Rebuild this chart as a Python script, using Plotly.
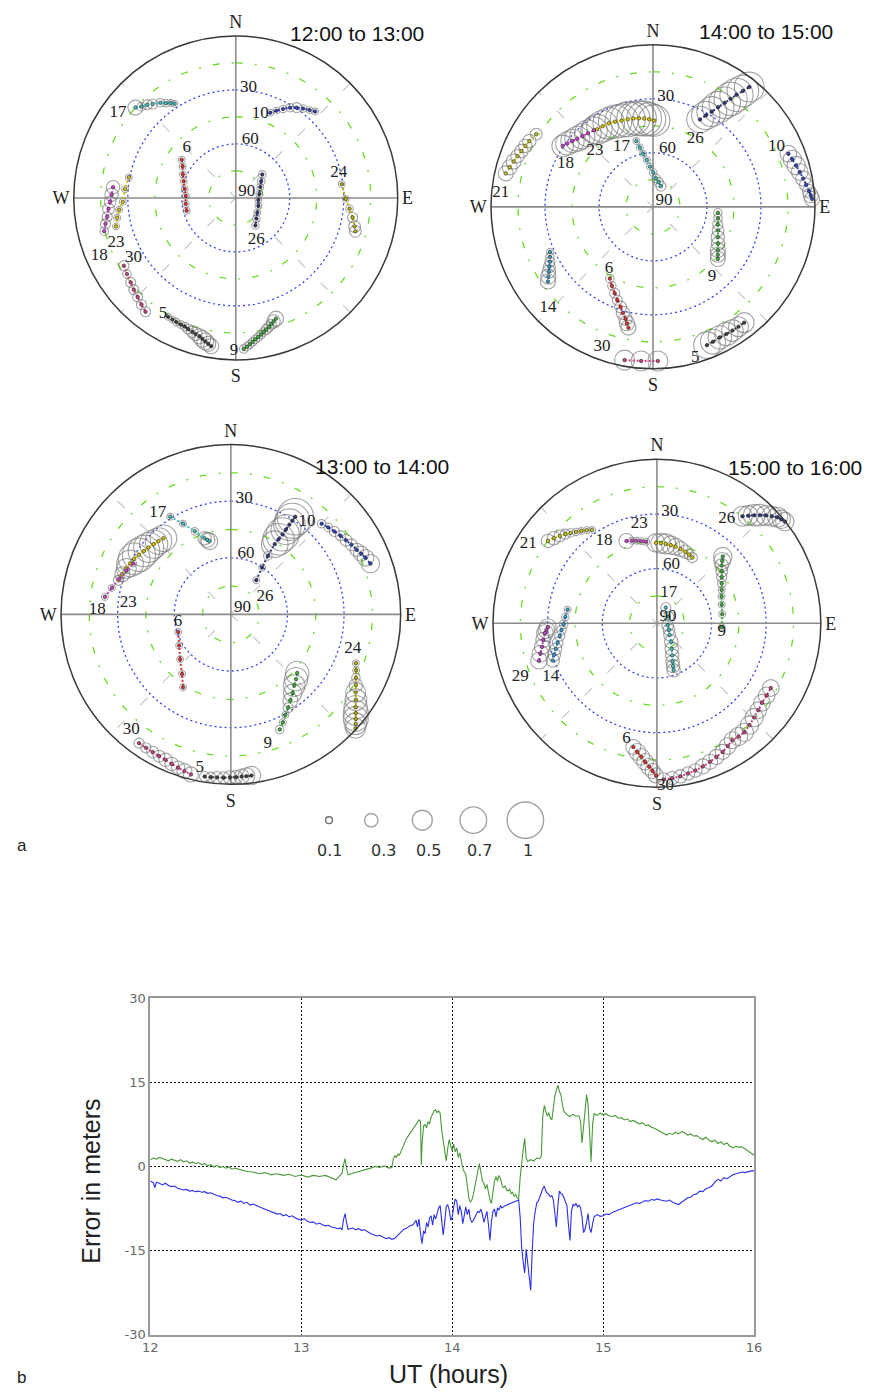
import numpy as np
import plotly.graph_objects as go

FIG_W, FIG_H = 875, 1398

# ---------------------------------------------------------------------------
# Sky plots: per satellite (PRN) azimuth [deg], elevation [deg], error size
# ---------------------------------------------------------------------------
SKY_12 = {
    17: dict(az=[312, 314, 316.5, 318.5, 321.6, 323.5, 325.5, 327],
             el=[15, 17, 18.6, 20.3, 22.5, 24.5, 26, 27.6],
             s=[0.35, 0.15, 0.2, 0.2, 0.15, 0.12, 0.1, 0.1]),
    10: dict(az=[22, 25, 28, 31, 34, 37, 40, 42.6],
             el=[38.9, 36.5, 34, 31.5, 29.5, 27.8, 26.3, 24.8],
             s=[0.1, 0.1, 0.12, 0.15, 0.2, 0.12, 0.1, 0.1]),
    6: dict(az=[305.3, 300.7, 294, 287.8, 279.8, 272.2, 263.3, 255.4],
            el=[53.2, 55.7, 57.8, 59.6, 61.2, 62.2, 62, 61.8],
            s=[0.1, 0.1, 0.1, 0.1, 0.1, 0.1, 0.1, 0.1]),
    26: dict(az=[48.4, 56.8, 66.2, 80.5, 95, 109.2, 124.3, 135, 144.5],
             el=[70.3, 73.1, 75.1, 76.7, 77.4, 76.7, 75.5, 73.8, 71.2],
             s=[0.12, 0.12, 0.1, 0.1, 0.1, 0.1, 0.1, 0.12, 0.12]),
    24: dict(az=[82.6, 90.5, 95.4, 99.5, 103.5, 105.6],
             el=[30.6, 28.9, 26.5, 24.2, 22.1, 21],
             s=[0.1, 0.1, 0.12, 0.2, 0.25, 0.25]),
    23: dict(az=[280.9, 274.5, 268, 264.2, 260.5, 256.6],
             el=[29.5, 28.3, 27.2, 24.8, 23.2, 21.6],
             s=[0.1, 0.1, 0.1, 0.1, 0.1, 0.1]),
    18: dict(az=[275, 271.5, 268.2, 265, 261.7, 258.7, 255.8],
             el=[21.6, 21, 20.2, 19, 17.8, 16.2, 14.6],
             s=[0.3, 0.3, 0.25, 0.25, 0.2, 0.2, 0.15]),
    30: dict(az=[238.8, 235, 231.2, 228, 224.7, 221.5, 218.4],
             el=[17.3, 16.2, 15.1, 13.8, 12.5, 10.9, 9.3],
             s=[0.2, 0.15, 0.2, 0.2, 0.2, 0.2, 0.2]),
    5: dict(az=[209.7, 207.5, 205.6, 203.5, 201.6, 200, 198, 196.5, 194.7, 193.3, 192, 190.7, 189.4],
            el=[14, 13.8, 13.5, 13.3, 13.1, 12.5, 11.8, 11.2, 10.5, 9.5, 8.5, 7.5, 6.5],
            s=[0.1, 0.1, 0.12, 0.12, 0.15, 0.2, 0.25, 0.3, 0.35, 0.4, 0.4, 0.35, 0.35]),
    9: dict(az=[177, 175.7, 174.5, 173.3, 172.1, 170.8, 169.5, 168.2, 167, 165.6, 164.3, 163, 161.6],
            el=[5.9, 7.1, 8.3, 9.5, 10.7, 11.7, 12.8, 13.9, 15, 16, 17.1, 18.2, 19.3],
            s=[0.15, 0.15, 0.15, 0.15, 0.15, 0.15, 0.15, 0.15, 0.2, 0.2, 0.2, 0.3, 0.35]),
}
LAB_12 = {17: (306, 9.2), 10: (16.2, 41.1), 6: (315.6, 51), 26: (154, 63.9),
          24: (76.1, 31), 23: (249.3, 18.9), 18: (247, 7.6), 30: (239.6, 24.2),
          5: (212.1, 14), 9: (180.7, 4.9)}

SKY_13 = {
    17: dict(az=[328.2, 332.2, 336.5, 340.9, 342.5, 343.7],
             el=[29.1, 35.6, 42, 47.3, 48.6, 49.6],
             s=[0.1, 0.1, 0.12, 0.3, 0.35, 0.4]),
    23: dict(az=[286.9, 290.3, 293.7, 296.8, 299.9, 303, 306.1, 309.2, 312.3, 315.4, 318.5],
             el=[27.8, 28.7, 29.5, 30.2, 30.9, 32, 33, 33.8, 34.7, 35.4, 36.1],
             s=[0.2, 0.35, 0.5, 0.7, 0.85, 0.9, 0.85, 0.8, 0.75, 0.7, 0.7]),
    18: dict(az=[277.9, 282.5, 288, 292.8, 297.5],
             el=[22.6, 25.4, 28, 30, 31.7],
             s=[0.1, 0.1, 0.1, 0.1, 0.1]),
    26: dict(az=[36.6, 33.7, 32.3, 32, 32.4, 32.9, 33, 33.1, 33.3, 33.4],
             el=[67.4, 60.1, 53.3, 46.1, 42.8, 39.5, 36.4, 33.2, 30.6, 28],
             s=[0.1, 0.1, 0.15, 0.7, 0.85, 0.9, 0.8, 0.85, 0.95, 1.0]),
    10: dict(az=[45, 48.2, 51.3, 54.3, 57.2, 60, 62.9, 65, 67.2, 70],
             el=[22, 20.8, 19.7, 18.5, 17.4, 16.2, 15, 13.8, 12.6, 11.3],
             s=[0.15, 0.15, 0.2, 0.2, 0.25, 0.25, 0.3, 0.35, 0.4, 0.45]),
    6: dict(az=[251.6, 238.9, 228.5, 219.3, 213.2],
            el=[60.6, 58, 54.1, 49.2, 43.7],
            s=[0.1, 0.1, 0.1, 0.1, 0.1]),
    24: dict(az=[111.3, 114, 116.9, 119.5, 122, 124.3, 126.6, 128.3, 129.9, 131.2, 132.4],
             el=[18.9, 17.3, 15.7, 13.9, 12, 9.8, 7.6, 5.6, 3.7, 2.1, 0.5],
             s=[0.1, 0.1, 0.15, 0.3, 0.5, 0.55, 0.6, 0.65, 0.65, 0.55, 0.5]),
    9: dict(az=[157, 154.3, 151.5, 148.4, 145.3, 141.8, 138.3, 134.8, 131.4],
            el=[23.7, 26.5, 29.4, 32, 34.6, 37, 39.5, 41.3, 43.1],
            s=[0.15, 0.1, 0.1, 0.2, 0.35, 0.45, 0.55, 0.6, 0.6]),
    30: dict(az=[215.5, 212.5, 209.6, 206.9, 204.2, 201.6, 199, 196.5, 194],
             el=[6.2, 6.2, 6.1, 5.8, 5.5, 4.8, 4.1, 3.4, 2.6],
             s=[0.2, 0.2, 0.25, 0.25, 0.3, 0.3, 0.3, 0.35, 0.35]),
    5: dict(az=[189.2, 187, 184.8, 182.5, 180.3, 178.2, 176.2, 174.5, 172.7],
            el=[3, 3.1, 3.3, 3.4, 3.6, 3.7, 3.9, 3.9, 3.9],
            s=[0.2, 0.2, 0.25, 0.25, 0.3, 0.3, 0.35, 0.4, 0.45]),
}
LAB_13 = {17: (324.2, 23.7), 23: (276.5, 35.3), 18: (272.1, 19.1), 26: (62.8, 69.6),
          10: (39.4, 26.4), 6: (262.6, 61.8), 24: (105.6, 22.9), 9: (164.1, 18.5),
          30: (220.8, 9.3), 5: (191.5, 7.1)}

SKY_14 = {
    18: dict(az=[304, 306.5, 309.3, 312, 315, 318.5, 322.4],
             el=[29.5, 30.8, 32.2, 33.4, 34.5, 35.4, 36.3],
             s=[0.55, 0.6, 0.6, 0.65, 0.65, 0.7, 0.7]),
    23: dict(az=[324.2, 328, 332.1, 336, 340, 344, 347.5, 351, 354.3, 357.5, 0.7],
             el=[36.9, 37.2, 37.5, 38.2, 39, 39.4, 39.7, 40.2, 40.7, 41.3, 42],
             s=[0.8, 0.85, 0.85, 0.9, 0.9, 0.95, 0.9, 0.95, 0.95, 0.9, 0.85]),
    17: dict(az=[345.8, 347.5, 349.5, 352.5, 355.8, 0.5, 5.9, 13, 20.9],
             el=[52.3, 56.2, 60, 63.8, 67.6, 70.9, 74.1, 76, 77.7],
             s=[0.1, 0.1, 0.1, 0.1, 0.1, 0.12, 0.15, 0.18, 0.2]),
    26: dict(az=[28.3, 30, 31.7, 33.2, 34.6, 35.7, 36.7, 37.8, 38.8],
             el=[34.9, 31.4, 27.8, 23.8, 19.8, 16.1, 12.4, 8.5, 4.6],
             s=[0.7, 0.75, 0.8, 0.85, 0.85, 0.9, 0.9, 0.85, 0.8]),
    10: dict(az=[68.6, 71.2, 73.9, 76.6, 79.3, 81.8, 84.3, 85.8, 87.2],
             el=[9.2, 8.2, 7.2, 6.2, 5.1, 4, 2.8, 2.1, 1.5],
             s=[0.4, 0.45, 0.45, 0.4, 0.35, 0.3, 0.3, 0.35, 0.35]),
    21: dict(az=[282.8, 285.4, 288, 290.5, 293, 295.5, 298, 301.9],
             el=[6.1, 7.4, 8.6, 9.6, 10.6, 11.4, 12.2, 13.6],
             s=[0.35, 0.35, 0.35, 0.3, 0.3, 0.3, 0.3, 0.25]),
    14: dict(az=[246.3, 244, 241.9, 240, 238.1, 236.3, 234.6],
             el=[27.5, 26.3, 25.1, 23.5, 21.9, 20.1, 18.4],
             s=[0.1, 0.15, 0.2, 0.25, 0.3, 0.35, 0.35]),
    6: dict(az=[211.1, 207.5, 203.9, 200.9, 197.9, 195.8, 193.8, 192.6, 191.5],
            el=[43.5, 40.5, 37.5, 34.5, 31.5, 28.7, 26, 23.7, 21.5],
            s=[0.15, 0.15, 0.2, 0.2, 0.25, 0.3, 0.3, 0.35, 0.35]),
    30: dict(az=[190.5, 184.4, 178.2], el=[3.4, 4.1, 4.3], s=[0.5, 0.5, 0.5]),
    5: dict(az=[158.7, 156, 152.9, 150, 147.3, 144.5, 141.8],
            el=[7.5, 8, 8.5, 8.4, 8.3, 8.2, 8.1],
            s=[0.7, 0.65, 0.6, 0.6, 0.55, 0.5, 0.5]),
    9: dict(az=[95.2, 100, 105.3, 110, 115.2, 119.5, 123.7, 126.5, 128.8],
            el=[53.8, 53.3, 52.7, 51.5, 50.2, 48.5, 46.7, 45.2, 43.8],
            s=[0.15, 0.15, 0.2, 0.25, 0.3, 0.3, 0.35, 0.35, 0.35]),
}
LAB_14 = {18: (296.3, 35.8), 23: (314, 45.3), 17: (332.3, 52.4), 26: (31.9, 45.6),
          10: (64.2, 13.7), 21: (275.2, 5.1), 14: (226.1, 9), 6: (215.5, 47.8),
          30: (200, 7), 5: (164.4, 2.8), 9: (139.8, 39.3)}

SKY_15 = {
    21: dict(az=[307.1, 309.5, 312, 314.2, 316.3, 318.5, 320.7, 323, 325.2],
             el=[15, 16.6, 18.3, 19.8, 21.4, 23, 24.5, 26, 27.6],
             s=[0.3, 0.3, 0.25, 0.2, 0.15, 0.12, 0.1, 0.1, 0.1]),
    18: dict(az=[339.7, 343, 346, 349.2, 352.5], el=[41.8, 42.6, 43.3, 44.1, 44.9],
             s=[0.35, 0.1, 0.1, 0.1, 0.1]),
    23: dict(az=[359.3, 2.8, 6.3, 10, 13.7, 17.7, 21.7, 25, 28.3],
             el=[45.8, 46, 46.1, 46.4, 46.7, 47.2, 47.7, 48.3, 49],
             s=[0.45, 0.5, 0.5, 0.45, 0.4, 0.35, 0.3, 0.2, 0.2]),
    26: dict(az=[38.6, 40.3, 42, 43.6, 45.3, 47, 48.7, 50.1, 51.5],
             el=[14.8, 12.5, 10.2, 8, 5.8, 3.8, 1.8, 1, 0.3],
             s=[0.5, 0.5, 0.55, 0.55, 0.5, 0.5, 0.5, 0.45, 0.45]),
    9: dict(az=[93.5, 82, 73.9, 67.5, 62.7, 58.3, 54.5, 51.2, 48.2, 46.3, 44.6],
            el=[54.4, 53.8, 53, 51.6, 50, 48.2, 46.3, 44.3, 42.3, 40.4, 38.5],
            s=[0.1, 0.1, 0.1, 0.1, 0.1, 0.15, 0.2, 0.25, 0.3, 0.4, 0.45]),
    17: dict(az=[29.4, 60, 100, 118, 132.7, 142, 150, 154.5, 157.7, 159.3, 160.5],
             el=[80.1, 82.5, 84, 82.5, 80.5, 77.2, 73.8, 70.5, 67.3, 64.9, 62.6],
             s=[0.2, 0.2, 0.25, 0.25, 0.25, 0.3, 0.3, 0.3, 0.3, 0.3, 0.3]),
    14: dict(az=[278.7, 274, 269.4, 266, 262.5, 259, 255.8, 253, 250.3],
             el=[40.4, 39.6, 38.8, 37.5, 36.2, 34.5, 32.8, 31, 29.3],
             s=[0.1, 0.12, 0.15, 0.18, 0.2, 0.22, 0.25, 0.28, 0.3]),
    29: dict(az=[268, 266.5, 265, 261.7, 258.4, 255.4, 252.4],
             el=[30.1, 29.2, 28.3, 27, 25.6, 23.9, 22.1],
             s=[0.4, 0.4, 0.4, 0.35, 0.35, 0.4, 0.4]),
    6: dict(az=[190.8, 188.7, 186.7, 184.9, 183.1, 181.7, 180.4],
            el=[20.9, 18.6, 16.2, 13.7, 11.2, 8.9, 6.5],
            s=[0.35, 0.4, 0.4, 0.4, 0.4, 0.35, 0.35]),
    30: dict(az=[177.5, 174.4, 171.3, 168.3, 165.4, 162.2, 159, 156, 152.9, 150, 147.1,
                 144.2, 141.3, 137.7, 134.1, 130.6, 127.1, 123.3, 119.6],
             el=[4.2, 4.6, 5, 5.8, 6.5, 7.5, 8.6, 9.7, 10.7, 12.2, 13.6, 13.4, 13.3,
                 14.5, 15.7, 16.7, 17.7, 17.9, 18.1],
             s=[0.3, 0.3, 0.3, 0.3, 0.3, 0.35, 0.35, 0.35, 0.35, 0.4, 0.4, 0.45, 0.45,
                0.45, 0.45, 0.4, 0.4, 0.4, 0.4]),
}
LAB_15 = {21: (301.7, 7), 18: (327.3, 36.2), 23: (349.9, 34.7), 26: (33.6, 20.8),
          9: (97.8, 54.1), 17: (21.2, 72.1), 29: (248.8, 9.6), 14: (243.4, 24.9),
          6: (194.7, 24.2), 30: (177, 0.5)}

PRN_COLOR = {5: '#404040', 6: '#e03030', 9: '#40b040', 10: '#3040c0', 14: '#30a0d0',
             17: '#40c0c0', 18: '#d040d0', 21: '#c8c020', 23: '#d8c800', 24: '#b8b000',
             26: '#303878', 29: '#c040c0', 30: '#c84080'}

# elevation ring annotations (azimuth, elevation)
RING_LABELS = [("30", 6.6, 28.5), ("60", 14, 56.8), ("90", 61, 83)]

# size legend
LEGEND_VALUES = [0.1, 0.3, 0.5, 0.7, 1.0]
LEGEND_TEXT = ["0.1", "0.3", "0.5", "0.7", "1"]

# ---------------------------------------------------------------------------
# Position error time series (UT hours, metres)
# ---------------------------------------------------------------------------
ERR_GREEN = [
    (12.00, 1.2), (12.02, 1.5), (12.04, 1.3), (12.06, 1.6), (12.08, 1.4), (12.10, 1.2),
    (12.12, 1.0), (12.14, 1.3), (12.16, 1.1), (12.18, 0.9), (12.20, 1.2), (12.22, 0.8),
    (12.24, 1.0), (12.26, 0.6), (12.28, 0.8), (12.30, 0.5), (12.32, 0.7), (12.34, 0.3),
    (12.36, 0.5), (12.38, 0.1), (12.40, 0.3), (12.42, -0.1), (12.44, 0.2), (12.46, -0.2),
    (12.48, 0.0), (12.50, -0.3), (12.52, -0.1), (12.54, -0.5), (12.56, -0.3), (12.60, -0.6),
    (12.64, -0.9), (12.68, -1.0), (12.72, -1.3), (12.76, -1.1), (12.80, -1.5), (12.84, -1.3),
    (12.88, -1.6), (12.92, -1.4), (12.96, -1.8), (13.00, -1.5), (13.04, -1.9), (13.08, -1.6),
    (13.12, -1.8), (13.16, -1.6), (13.20, -2.0), (13.23, -2.4), (13.25, -1.8), (13.27, -1.2),
    (13.28, 0.3), (13.29, 1.4), (13.30, -0.4), (13.31, -1.5), (13.34, -1.2), (13.37, -1.0),
    (13.40, -0.8), (13.43, -0.5), (13.46, -0.3), (13.49, 0.0), (13.52, -0.2), (13.55, 0.1),
    (13.58, -0.3), (13.60, -0.2), (13.61, 1.4), (13.62, 1.9), (13.63, 1.6), (13.64, 2.2),
    (13.65, 2.0), (13.66, 2.6), (13.67, 3.4), (13.68, 4.0), (13.69, 4.6), (13.70, 5.1),
    (13.71, 5.5), (13.72, 5.9), (13.73, 6.2), (13.74, 6.6), (13.75, 7.0), (13.76, 7.4),
    (13.77, 7.9), (13.78, 8.3), (13.79, 8.0), (13.795, 0.3), (13.80, 4.0), (13.81, 7.2),
    (13.82, 7.5), (13.83, 6.9), (13.84, 8.0), (13.85, 7.6), (13.86, 8.8), (13.87, 9.5),
    (13.88, 9.9), (13.89, 10.1), (13.90, 9.6), (13.91, 9.9), (13.92, 9.5), (13.93, 6.5),
    (13.94, 4.5), (13.95, 3.0), (13.96, 1.0), (13.97, 3.2), (13.98, 4.8), (13.99, 3.6),
    (14.00, 2.8), (14.01, 4.0), (14.02, 2.6), (14.03, 3.3), (14.04, 1.6), (14.05, 2.4),
    (14.06, 0.6), (14.07, -0.3), (14.08, -1.0), (14.09, -1.4), (14.10, -3.5), (14.11, -5.6),
    (14.12, -6.4), (14.13, -6.0), (14.14, -5.0), (14.15, -3.8), (14.16, -2.2), (14.17, -0.8),
    (14.18, 0.5), (14.19, -1.2), (14.20, -2.6), (14.21, -3.0), (14.22, -4.0), (14.23, -3.2),
    (14.24, -5.0), (14.25, -6.0), (14.26, -6.6), (14.27, -4.5), (14.28, -2.6), (14.29, -1.8),
    (14.30, -2.6), (14.31, -1.6), (14.32, -2.2), (14.33, -3.4), (14.34, -3.8), (14.35, -3.5),
    (14.36, -4.2), (14.37, -4.4), (14.38, -4.0), (14.39, -4.9), (14.40, -4.6), (14.41, -5.3),
    (14.42, -5.0), (14.43, -5.6), (14.44, -5.9), (14.45, -2.0), (14.46, 0.8), (14.47, 3.0),
    (14.48, 5.0), (14.49, 1.5), (14.50, 0.9), (14.52, 1.2), (14.54, 1.0), (14.56, 1.5),
    (14.58, 1.4), (14.59, 1.8), (14.60, 9.0), (14.61, 10.9), (14.62, 9.8), (14.63, 9.0),
    (14.64, 9.6), (14.65, 8.6), (14.66, 8.3), (14.67, 11.0), (14.68, 12.6), (14.69, 13.6),
    (14.70, 14.5), (14.71, 13.4), (14.72, 12.8), (14.73, 11.0), (14.74, 9.8), (14.76, 9.2),
    (14.78, 8.9), (14.80, 9.3), (14.82, 9.0), (14.84, 9.0), (14.85, 8.0), (14.86, 4.2),
    (14.87, 6.8), (14.88, 10.5), (14.89, 12.8), (14.90, 11.0), (14.91, 6.0), (14.92, 0.8),
    (14.93, 7.5), (14.94, 9.4), (14.96, 9.1), (14.98, 9.5), (15.00, 9.2), (15.02, 9.4),
    (15.04, 9.0), (15.06, 8.9), (15.08, 9.1), (15.10, 8.6), (15.12, 8.7), (15.14, 8.3),
    (15.16, 8.5), (15.18, 8.0), (15.20, 8.2), (15.22, 7.9), (15.24, 7.6), (15.26, 7.8),
    (15.28, 7.3), (15.30, 7.4), (15.32, 7.0), (15.34, 6.8), (15.36, 6.5), (15.38, 6.2),
    (15.40, 5.9), (15.42, 5.6), (15.44, 5.9), (15.46, 5.7), (15.48, 6.1), (15.50, 5.8),
    (15.52, 6.2), (15.54, 6.0), (15.56, 5.6), (15.58, 5.8), (15.60, 5.4), (15.62, 5.5),
    (15.64, 5.1), (15.66, 4.8), (15.68, 5.2), (15.70, 4.7), (15.72, 4.4), (15.74, 4.7),
    (15.76, 4.1), (15.78, 4.4), (15.80, 3.9), (15.82, 4.2), (15.84, 3.6), (15.86, 3.3),
    (15.88, 3.6), (15.90, 3.4), (15.92, 3.5), (15.94, 3.1), (15.96, 2.8), (15.98, 2.4),
    (16.00, 2.0),
]

ERR_BLUE = [
    (12.00, -2.6), (12.02, -2.9), (12.03, -3.8), (12.04, -2.8), (12.06, -3.0), (12.08, -3.3),
    (12.10, -3.0), (12.12, -3.4), (12.14, -3.6), (12.16, -3.5), (12.18, -3.9), (12.20, -4.0),
    (12.22, -4.2), (12.24, -4.1), (12.26, -4.4), (12.28, -4.3), (12.30, -4.5), (12.32, -4.4),
    (12.34, -4.6), (12.36, -4.5), (12.38, -4.8), (12.40, -4.7), (12.42, -5.0), (12.44, -5.2),
    (12.46, -5.3), (12.48, -5.6), (12.50, -5.5), (12.52, -5.8), (12.54, -6.0), (12.56, -6.1),
    (12.58, -6.4), (12.60, -6.2), (12.62, -6.6), (12.64, -6.4), (12.66, -6.9), (12.68, -6.7),
    (12.70, -7.0), (12.72, -7.2), (12.74, -7.4), (12.76, -7.6), (12.78, -7.9), (12.80, -8.0),
    (12.82, -8.2), (12.84, -8.5), (12.86, -8.4), (12.88, -8.8), (12.90, -8.6), (12.92, -9.0),
    (12.94, -8.8), (12.96, -9.2), (12.98, -9.4), (13.00, -9.6), (13.02, -9.3), (13.04, -9.8),
    (13.06, -10.0), (13.08, -9.9), (13.10, -10.3), (13.12, -10.1), (13.14, -10.4),
    (13.16, -10.6), (13.18, -10.5), (13.20, -10.8), (13.22, -10.9), (13.24, -11.1),
    (13.26, -11.0), (13.27, -11.3), (13.28, -9.5), (13.29, -8.4), (13.30, -10.0),
    (13.31, -11.2), (13.34, -11.0), (13.36, -11.3), (13.38, -11.1), (13.40, -11.4),
    (13.42, -11.3), (13.44, -11.7), (13.46, -12.0), (13.48, -12.2), (13.50, -12.4),
    (13.52, -12.3), (13.54, -12.6), (13.56, -12.9), (13.58, -12.7), (13.60, -13.0),
    (13.62, -12.8), (13.64, -12.2), (13.66, -11.6), (13.68, -11.2), (13.70, -11.0),
    (13.72, -10.6), (13.74, -10.4), (13.76, -9.6), (13.77, -10.8), (13.78, -9.4),
    (13.79, -12.0), (13.80, -13.8), (13.81, -11.5), (13.82, -12.0), (13.83, -10.0),
    (13.84, -10.8), (13.85, -9.2), (13.86, -8.8), (13.87, -10.5), (13.88, -8.6),
    (13.89, -9.4), (13.90, -8.2), (13.91, -7.4), (13.92, -7.0), (13.93, -9.5),
    (13.94, -12.2), (13.95, -10.0), (13.96, -7.2), (13.97, -6.8), (13.98, -7.8),
    (13.99, -9.6), (14.00, -9.0), (14.01, -7.2), (14.02, -5.8), (14.03, -6.2), (14.04, -8.6),
    (14.05, -7.0), (14.06, -8.0), (14.07, -10.2), (14.08, -8.4), (14.09, -7.2), (14.10, -8.6),
    (14.11, -7.6), (14.12, -9.4), (14.13, -10.0), (14.14, -9.6), (14.15, -9.0), (14.16, -8.6),
    (14.17, -8.0), (14.18, -8.2), (14.19, -7.6), (14.20, -8.6), (14.21, -10.0), (14.22, -9.0),
    (14.23, -8.0), (14.24, -10.4), (14.25, -13.2), (14.26, -9.8), (14.27, -8.0), (14.28, -7.6),
    (14.29, -9.0), (14.30, -7.4), (14.31, -7.8), (14.32, -7.0), (14.33, -7.4), (14.35, -7.0),
    (14.37, -6.8), (14.39, -6.6), (14.41, -6.4), (14.43, -6.2), (14.44, -6.0), (14.45, -9.0),
    (14.46, -14.4), (14.47, -17.0), (14.48, -19.0), (14.49, -14.8), (14.50, -17.5),
    (14.51, -20.5), (14.52, -22.1), (14.53, -15.0), (14.54, -10.0), (14.55, -8.0),
    (14.56, -6.5), (14.57, -6.2), (14.58, -5.4), (14.59, -4.8), (14.60, -4.0), (14.61, -3.5),
    (14.62, -4.4), (14.63, -4.8), (14.64, -5.0), (14.65, -5.4), (14.66, -5.2), (14.67, -6.0),
    (14.68, -8.4), (14.69, -10.8), (14.70, -7.0), (14.71, -4.4), (14.72, -4.8), (14.73, -5.0),
    (14.74, -5.6), (14.75, -6.4), (14.76, -7.0), (14.77, -10.4), (14.78, -13.2), (14.79, -8.0),
    (14.80, -6.8), (14.81, -7.0), (14.82, -6.6), (14.83, -7.2), (14.84, -6.9), (14.85, -7.4),
    (14.86, -9.0), (14.87, -11.8), (14.88, -11.2), (14.89, -10.0), (14.90, -8.4),
    (14.91, -11.0), (14.92, -11.8), (14.93, -10.2), (14.94, -9.0), (14.96, -8.6),
    (14.98, -8.9), (15.00, -8.8), (15.02, -8.5), (15.04, -8.6), (15.06, -8.2), (15.08, -8.0),
    (15.10, -7.8), (15.12, -7.6), (15.14, -7.3), (15.16, -7.2), (15.18, -6.9), (15.20, -6.8),
    (15.22, -6.5), (15.24, -6.6), (15.26, -6.3), (15.28, -6.1), (15.30, -6.2), (15.32, -5.9),
    (15.34, -6.0), (15.36, -5.8), (15.38, -6.0), (15.40, -6.1), (15.42, -6.2), (15.44, -6.0),
    (15.46, -6.4), (15.48, -6.6), (15.50, -6.8), (15.52, -6.4), (15.54, -6.0), (15.56, -5.6),
    (15.58, -5.5), (15.60, -5.0), (15.62, -4.9), (15.64, -4.4), (15.66, -4.5), (15.68, -4.0),
    (15.70, -3.8), (15.72, -3.5), (15.74, -2.8), (15.76, -2.3), (15.78, -2.6), (15.80, -2.0),
    (15.82, -2.2), (15.84, -1.8), (15.86, -1.5), (15.88, -1.3), (15.90, -1.2), (15.92, -1.0),
    (15.94, -1.1), (15.96, -0.9), (15.98, -0.8), (16.00, -0.8),
]

X_TICKS = [12, 13, 14, 15, 16]
Y_TICKS = [-30, -15, 0, 15, 30]
Y_TICK_TEXT = ["-30", "-15", "0", "15", "30"]

# ---------------------------------------------------------------------------
# Layout of the four sky plots (pixel centre, radius, title position)
# ---------------------------------------------------------------------------
PANELS = [
    dict(name="polar", title="12:00 to 13:00", cx=232, cy=193, R=165, tx=355, ty=27,
         tracks=SKY_12, labels=LAB_12),
    dict(name="polar2", title="14:00 to 15:00", cx=657, cy=202, R=165, tx=772, ty=25,
         tracks=SKY_14, labels=LAB_14),
    dict(name="polar3", title="13:00 to 14:00", cx=227, cy=614, R=173, tx=381, ty=464,
         tracks=SKY_13, labels=LAB_13),
    dict(name="polar4", title="15:00 to 16:00", cx=661, cy=623, R=167, tx=802, ty=465,
         tracks=SKY_15, labels=LAB_15),
]

SERIF = "Liberation Serif"
SANS = "Liberation Sans"


def px(x):
    return x / FIG_W


def py(y):
    return 1 - y / FIG_H


def marker_px(v):
    # circle diameter in pixels for a relative error value
    return 3.5 + 33.0 * np.asarray(v, dtype=float)


def zen(el):
    return 90.0 - np.asarray(el, dtype=float)


fig = go.Figure()
annotations = []
layout_polars = {}

ring_theta = np.arange(0, 361, 2)

for p in PANELS:
    sub = p["name"]
    R, cx, cy = p["R"], p["cx"], p["cy"]
    layout_polars[sub] = dict(
        domain=dict(x=[px(cx - R), px(cx + R)], y=[py(cy + R), py(cy - R)]),
        bgcolor="white",
        radialaxis=dict(range=[0, 90], showline=False, showgrid=False,
                        showticklabels=False, ticks=""),
        angularaxis=dict(rotation=90, direction="clockwise", tickmode="array",
                         tickvals=[0, 90, 180, 270], ticktext=["N", "E", "S", "W"],
                         showgrid=False, ticks="", linecolor="#3a3a3a", linewidth=1.5,
                         tickfont=dict(family=SERIF, size=18, color="#222")),
    )

    common = dict(subplot=sub, hoverinfo="skip", showlegend=False)

    # elevation rings
    for r_ring, col, dash in [(15, "#66dd22", "7px,12px,2px,12px"),
                              (45, "#66dd22", "7px,12px,2px,12px"),
                              (75, "#66dd22", "7px,12px,2px,12px"),
                              (30, "#3344ee", "2px,3px"),
                              (60, "#3344ee", "2px,3px")]:
        fig.add_trace(go.Scatterpolar(r=np.full(ring_theta.size, r_ring), theta=ring_theta,
                                      mode="lines", line=dict(color=col, width=1.3, dash=dash),
                                      **common))
    # diagonal spokes
    for a in (45, 135):
        fig.add_trace(go.Scatterpolar(r=[90, 0, 90], theta=[a, a, a + 180], mode="lines",
                                      line=dict(color="#c8c8c8", width=1.2, dash="10px,22px"),
                                      **common))
    # cardinal cross
    for a in (0, 90):
        fig.add_trace(go.Scatterpolar(r=[90, 0, 90], theta=[a, a, a + 180], mode="lines",
                                      line=dict(color="#8c8c8c", width=1.6), **common))

    # satellite tracks: error circles then coloured path
    for prn, trk in p["tracks"].items():
        fig.add_trace(go.Scatterpolar(
            r=zen(trk["el"]), theta=trk["az"], mode="markers", cliponaxis=False,
            marker=dict(symbol="circle-open", size=marker_px(trk["s"]), color="#7c7c7c",
                        line=dict(width=1.1)),
            **common))
    for prn, trk in p["tracks"].items():
        c = PRN_COLOR[prn]
        fig.add_trace(go.Scatterpolar(
            r=zen(trk["el"]), theta=trk["az"], mode="lines+markers", cliponaxis=False,
            line=dict(color=c, width=2, dash="2px,2px"),
            marker=dict(size=3.5, color=c, line=dict(width=0.6, color="#222")),
            **common))

    # satellite numbers
    labs = p["labels"]
    fig.add_trace(go.Scatterpolar(
        r=zen([v[1] for v in labs.values()]), theta=[v[0] for v in labs.values()],
        text=[str(k) for k in labs.keys()], mode="text", cliponaxis=False,
        textfont=dict(family=SERIF, size=17, color="#222"), **common))

    # elevation ring values
    fig.add_trace(go.Scatterpolar(
        r=zen([e for _, _, e in RING_LABELS]), theta=[a for _, a, _ in RING_LABELS],
        text=[t for t, _, _ in RING_LABELS], mode="text", cliponaxis=False,
        textfont=dict(family=SERIF, size=17, color="#222"), **common))

    annotations.append(dict(x=px(p["tx"]), y=py(p["ty"]), xref="paper", yref="paper",
                            text=p["title"], showarrow=False, xanchor="center",
                            yanchor="middle", font=dict(family=SANS, size=21, color="#111")))

# ---- size legend ----
LEG_X = [327, 370, 422, 474, 527]
fig.add_trace(go.Scatter(
    x=LEG_X, y=[822] * len(LEG_X), mode="markers", xaxis="x2", yaxis="y2",
    marker=dict(symbol="circle-open", size=marker_px(LEGEND_VALUES),
                color=["#333"] + ["#7c7c7c"] * 4, line=dict(width=1.4)),
    hoverinfo="skip", showlegend=False))
for xl, t in zip([327, 382, 428, 480, 530], LEGEND_TEXT):
    annotations.append(dict(x=px(xl), y=py(853), xref="paper", yref="paper", text=t,
                            showarrow=False, xanchor="center", yanchor="middle",
                            font=dict(family="DejaVu Sans", size=16, color="#333")))

# ---- error time series ----
g_t, g_v = zip(*ERR_GREEN)
b_t, b_v = zip(*ERR_BLUE)
fig.add_trace(go.Scatter(x=g_t, y=g_v, mode="lines", line=dict(color="#4a9a3a", width=1.1),
                         hoverinfo="skip", showlegend=False))
fig.add_trace(go.Scatter(x=b_t, y=b_v, mode="lines", line=dict(color="#2a30f0", width=1.1),
                         hoverinfo="skip", showlegend=False))

# panel letters and axis titles
annotations += [
    dict(x=px(14), y=py(848), text="a", font=dict(family=SANS, size=17, color="#222")),
    dict(x=px(14), y=py(1385), text="b", font=dict(family=SANS, size=17, color="#222")),
    dict(x=px(449), y=py(1382), text="UT (hours)", font=dict(family=SANS, size=25, color="#222")),
    dict(x=px(85), y=py(1187), text="Error in meters", textangle=-90,
         font=dict(family=SANS, size=25, color="#222")),
]
for a in annotations[-4:]:
    a.update(xref="paper", yref="paper", showarrow=False, xanchor="center", yanchor="middle")

tickfont = dict(family="DejaVu Sans", size=13, color="#666")
fig.update_layout(
    width=FIG_W, height=FIG_H, margin=dict(l=0, r=0, t=0, b=0),
    paper_bgcolor="white", plot_bgcolor="white",
    annotations=annotations,
    xaxis=dict(domain=[px(145), px(760)], range=[12, 16], tickvals=X_TICKS,
               showgrid=True, gridcolor="#111", griddash="2px,2px", gridwidth=1,
               showline=True, linecolor="#999", linewidth=2, mirror=True, ticks="",
               zeroline=False, tickfont=tickfont),
    yaxis=dict(domain=[py(1342), py(1002)], range=[-30, 30], tickvals=Y_TICKS,
               ticktext=Y_TICK_TEXT,
               showgrid=True, gridcolor="#111", griddash="2px,2px", gridwidth=1,
               showline=True, linecolor="#999", linewidth=2, mirror=True, ticks="",
               zeroline=False, tickfont=tickfont),
    xaxis2=dict(domain=[px(290), px(570)], range=[290, 570], visible=False,
                anchor="y2"),
    yaxis2=dict(domain=[py(845), py(795)], range=[845, 795], visible=False,
                anchor="x2"),
    **layout_polars,
)

fig.write_html("out.html")
